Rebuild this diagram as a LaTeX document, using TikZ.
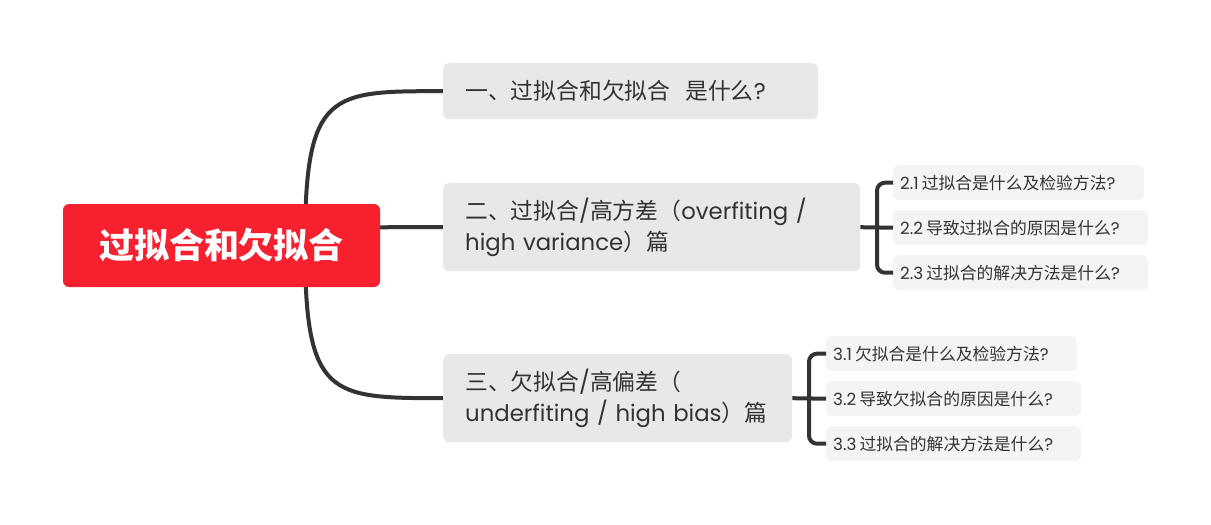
\documentclass[tikz,border=0pt]{standalone}
\usepackage{fontspec}
\setmainfont{Noto Sans CJK SC}
\newfontfamily\lat{Poppins}
\usetikzlibrary{backgrounds}
\definecolor{rootred}{HTML}{F6202F}
\definecolor{boxgray}{HTML}{E8E8E8}
\definecolor{subgray}{HTML}{F4F4F4}
\definecolor{txt}{HTML}{333333}
\definecolor{linec}{HTML}{333333}
\newcommand{\latx}[1]{{\lat #1}}
\begin{document}
\begin{tikzpicture}[x=1pt,y=-1pt,
  rootbox/.style={fill=rootred, rounded corners=6pt, text=white, font=\fontsize{35}{40}\selectfont\bfseries, inner sep=0pt},
  mainbox/.style={fill=boxgray, rounded corners=6pt, anchor=north west, inner xsep=22pt, inner ysep=0pt, align=left, text=txt, font=\fontsize{22.8}{31}\selectfont},
  subbox/.style={fill=subgray, rounded corners=6pt, anchor=north west, inner xsep=7pt, inner ysep=0pt, align=left, text=txt, minimum height=35pt, font=\fontsize{16.8}{20}\selectfont},
  conn/.style={draw=linec, line width=4pt},
  brk/.style={draw=linec, line width=4pt, rounded corners=8pt}]
\useasboundingbox (0,0) rectangle (1211,525);
% root
\node[rootbox, minimum width=317pt, minimum height=83pt] (root) at (221.5,245.5) {过拟合和欠拟合};
% main boxes
\node[mainbox, minimum width=375pt, minimum height=56pt, text width=331pt] (b1) at (443,63) {一、过拟合和欠拟合\hspace*{15pt}是什么\latx{?}};
\node[mainbox, minimum width=417pt, minimum height=88pt, text width=373pt] (b2) at (443,183) {二、过拟合\latx{/}高方差（\latx{overfiting /}\\\latx{high variance}）篇};
\node[mainbox, minimum width=349pt, minimum height=88pt, text width=305pt] (b3) at (443,354) {三、欠拟合\latx{/}高偏差（\\\latx{underfiting / high bias}）篇};
% sub boxes group 2
\node[subbox, minimum width=251pt, text width=237pt] (s21) at (893,165) {\latx{2.1}\hspace{3pt}过拟合是什么及检验方法\latx{?}};
\node[subbox, minimum width=255pt, text width=241pt] (s22) at (893,210) {\latx{2.2}\hspace{3pt}导致过拟合的原因是什么\latx{?}};
\node[subbox, minimum width=255pt, text width=241pt] (s23) at (893,255) {\latx{2.3}\hspace{3pt}过拟合的解决方法是什么\latx{?}};
% sub boxes group 3
\node[subbox, minimum width=251pt, text width=237pt] (s31) at (826,336) {\latx{3.1}\hspace{3pt}欠拟合是什么及检验方法\latx{?}};
\node[subbox, minimum width=255pt, text width=241pt] (s32) at (826,381) {\latx{3.2}\hspace{3pt}导致欠拟合的原因是什么\latx{?}};
\node[subbox, minimum width=255pt, text width=241pt] (s33) at (826,426) {\latx{3.3}\hspace{3pt}过拟合的解决方法是什么\latx{?}};
% connectors
\begin{scope}[on background layer]
\coordinate (rk) at (305,245);
\draw[conn] (rk) .. controls (305,91) and (330,91) .. (b1.west);
\draw[conn] (rk) .. controls (330,227) .. (b2.west);
\draw[conn] (rk) .. controls (305,398) and (330,398) .. (b3.west);
\end{scope}
\coordinate (j2) at (877,227);
\draw[conn] (b2.east) -- (s22.west);
\draw[brk] (s21.west) -| (j2) |- (s23.west);
\coordinate (j3) at (809,398);
\draw[conn] (b3.east) -- (s32.west);
\draw[brk] (s31.west) -| (j3) |- (s33.west);
\end{tikzpicture}
\end{document}
